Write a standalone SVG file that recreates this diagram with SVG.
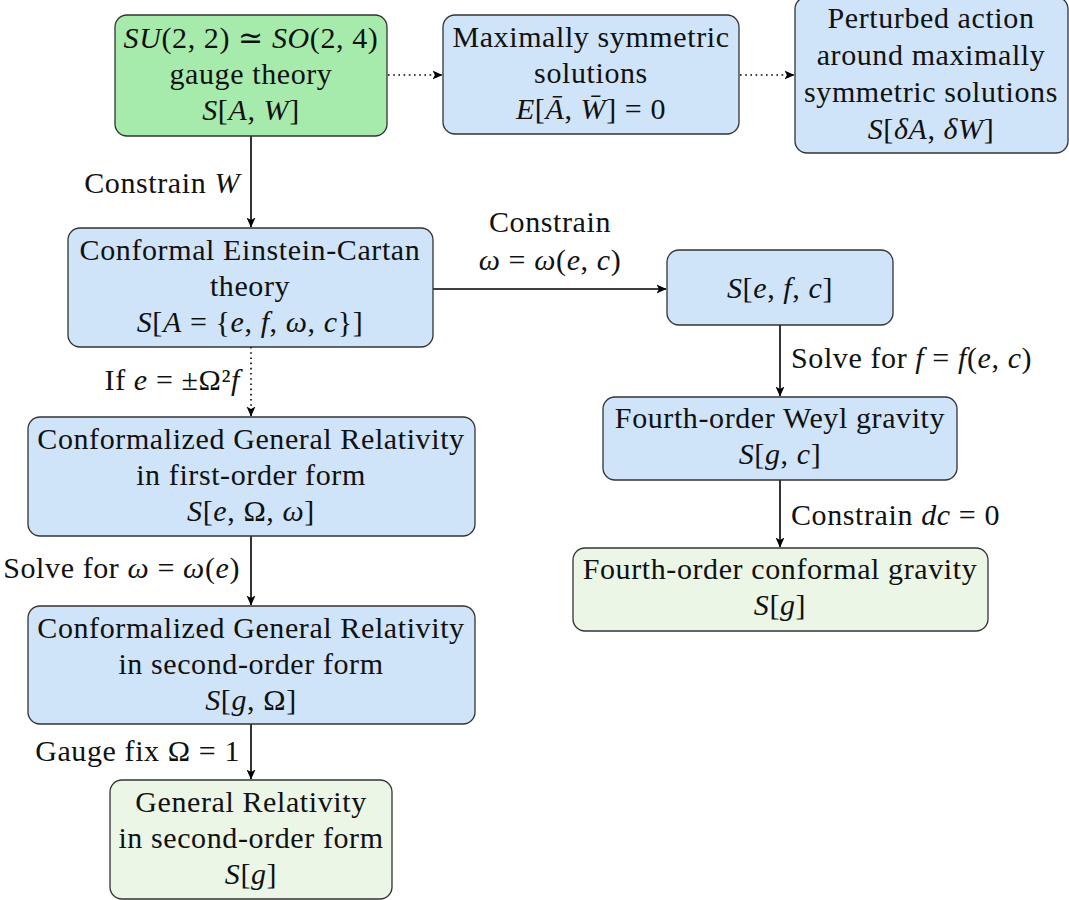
<svg xmlns="http://www.w3.org/2000/svg" width="1069" height="900" viewBox="0 0 1069 900">
<style>
  .box { stroke: #333; stroke-width: 1.3; }
  .g1 { fill: #a7ebac; }
  .bl { fill: #cfe4f8; }
  .g2 { fill: #ebf6e6; }
  text { font-family: 'Liberation Serif', 'DejaVu Serif', serif; font-size: 30px; letter-spacing: 0.6px; fill: #111; }
  .c { text-anchor: middle; }
  .e { text-anchor: end; }
  .i { font-style: italic; }
  .ln { stroke: #000; stroke-width: 1.6; fill: none; }
  .dot { stroke-dasharray: 1.6 3.6; }
</style>
<defs>
  <marker id="ah" viewBox="0 0 10 10" refX="9.5" refY="5" markerWidth="10" markerHeight="10" markerUnits="userSpaceOnUse" orient="auto">
    <path d="M0,0.5 L10,5 L0,9.5 L2.5,5 Z" fill="#000"/>
  </marker>
</defs>

<g id="connectors">
  <line class="ln dot" x1="388" y1="75" x2="442" y2="75" marker-end="url(#ah)"/>
  <line class="ln dot" x1="740" y1="75" x2="794" y2="75" marker-end="url(#ah)"/>
  <line class="ln" x1="251" y1="136" x2="251" y2="227" marker-end="url(#ah)"/>
  <line class="ln" x1="433" y1="289" x2="666" y2="289" marker-end="url(#ah)"/>
  <line class="ln dot" x1="251" y1="347" x2="251" y2="416" marker-end="url(#ah)"/>
  <line class="ln" x1="780" y1="325" x2="780" y2="396" marker-end="url(#ah)"/>
  <line class="ln" x1="780" y1="480" x2="780" y2="547" marker-end="url(#ah)"/>
  <line class="ln" x1="251" y1="536" x2="251" y2="605" marker-end="url(#ah)"/>
  <line class="ln" x1="251" y1="724" x2="251" y2="779" marker-end="url(#ah)"/>
  <text class="e" x="240" y="193">Constrain <tspan class="i">W</tspan></text>
  <text class="c" x="550" y="232">Constrain</text>
  <text class="c" x="550" y="270"><tspan class="i">ω</tspan> = <tspan class="i">ω</tspan>(<tspan class="i">e</tspan>, <tspan class="i">c</tspan>)</text>
  <text class="e" x="240" y="390">If <tspan class="i">e</tspan> = ±Ω²<tspan class="i">f</tspan></text>
  <text x="791" y="368">Solve for <tspan class="i">f</tspan> = <tspan class="i">f</tspan>(<tspan class="i">e</tspan>, <tspan class="i">c</tspan>)</text>
  <text x="791" y="525">Constrain <tspan class="i">dc</tspan> = 0</text>
  <text class="e" x="240" y="578">Solve for <tspan class="i">ω</tspan> = <tspan class="i">ω</tspan>(<tspan class="i">e</tspan>)</text>
  <text class="e" x="240" y="761">Gauge fix Ω = 1</text>
</g>

<g id="n-gauge">
  <rect class="box g1" x="115" y="15" width="272" height="121" rx="12"/>
  <text class="c" x="251" y="48"><tspan class="i">SU</tspan>(2, 2) ≃ <tspan class="i">SO</tspan>(2, 4)</text>
  <text class="c" x="251" y="84">gauge theory</text>
  <text class="c" x="251" y="120"><tspan class="i">S</tspan>[<tspan class="i">A</tspan>, <tspan class="i">W</tspan>]</text>
</g>

<g id="n-maxsym">
  <rect class="box bl" x="443" y="15" width="296" height="119" rx="12"/>
  <text class="c" x="591" y="47">Maximally symmetric</text>
  <text class="c" x="591" y="83">solutions</text>
  <text class="c" x="591" y="119"><tspan class="i">E</tspan>[<tspan class="i">Ā</tspan>, <tspan class="i">W̄</tspan>] = 0</text>
</g>

<g id="n-perturbed">
  <rect class="box bl" x="795" y="-3" width="273" height="156" rx="12"/>
  <text class="c" x="931" y="28">Perturbed action</text>
  <text class="c" x="931" y="65">around maximally</text>
  <text class="c" x="931" y="102">symmetric solutions</text>
  <text class="c" x="931" y="139"><tspan class="i">S</tspan>[<tspan class="i">δA</tspan>, <tspan class="i">δW</tspan>]</text>
</g>

<g id="n-cec">
  <rect class="box bl" x="68" y="228" width="365" height="119" rx="12"/>
  <text class="c" x="250" y="260">Conformal Einstein-Cartan</text>
  <text class="c" x="250" y="296">theory</text>
  <text class="c" x="250" y="332"><tspan class="i">S</tspan>[<tspan class="i">A</tspan> = {<tspan class="i">e</tspan>, <tspan class="i">f</tspan>, <tspan class="i">ω</tspan>, <tspan class="i">c</tspan>}]</text>
</g>

<g id="n-sefc">
  <rect class="box bl" x="667" y="250" width="226" height="75" rx="12"/>
  <text class="c" x="780" y="298"><tspan class="i">S</tspan>[<tspan class="i">e</tspan>, <tspan class="i">f</tspan>, <tspan class="i">c</tspan>]</text>
</g>

<g id="n-weyl">
  <rect class="box bl" x="603" y="397" width="354" height="83" rx="12"/>
  <text class="c" x="780" y="428">Fourth-order Weyl gravity</text>
  <text class="c" x="780" y="464"><tspan class="i">S</tspan>[<tspan class="i">g</tspan>, <tspan class="i">c</tspan>]</text>
</g>

<g id="n-conformal">
  <rect class="box g2" x="573" y="548" width="415" height="83" rx="12"/>
  <text class="c" x="780" y="579">Fourth-order conformal gravity</text>
  <text class="c" x="780" y="615"><tspan class="i">S</tspan>[<tspan class="i">g</tspan>]</text>
</g>

<g id="n-cgr1">
  <rect class="box bl" x="28" y="417" width="447" height="119" rx="12"/>
  <text class="c" x="251" y="449">Conformalized General Relativity</text>
  <text class="c" x="251" y="485">in first-order form</text>
  <text class="c" x="251" y="521"><tspan class="i">S</tspan>[<tspan class="i">e</tspan>, Ω, <tspan class="i">ω</tspan>]</text>
</g>

<g id="n-cgr2">
  <rect class="box bl" x="28" y="606" width="447" height="118" rx="12"/>
  <text class="c" x="251" y="638">Conformalized General Relativity</text>
  <text class="c" x="251" y="674">in second-order form</text>
  <text class="c" x="251" y="710"><tspan class="i">S</tspan>[<tspan class="i">g</tspan>, Ω]</text>
</g>

<g id="n-gr">
  <rect class="box g2" x="110" y="780" width="282" height="119" rx="12"/>
  <text class="c" x="251" y="812">General Relativity</text>
  <text class="c" x="251" y="848">in second-order form</text>
  <text class="c" x="251" y="884"><tspan class="i">S</tspan>[<tspan class="i">g</tspan>]</text>
</g>
</svg>
